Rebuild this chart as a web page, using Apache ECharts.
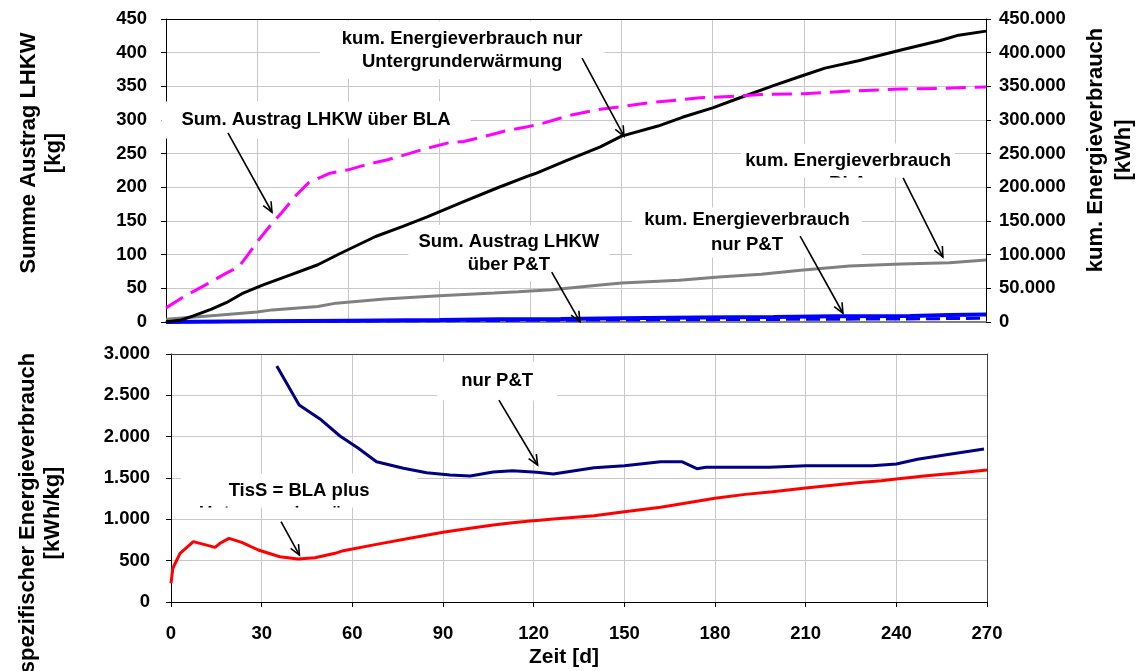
<!DOCTYPE html>
<html>
<head>
<meta charset="utf-8">
<script src="https://cdn.jsdelivr.net/npm/echarts@6/dist/echarts.min.js"></script>
<style>
  html, body { margin: 0; padding: 0; background: #fff; }
  #chart { width: 1137px; height: 671px; }
</style>
</head>
<body>
<div id="chart"></div>
<script>
// ---- data ---------------------------------------------------------------
// Upper panel: cumulative discharge [kg] (left) and cumulative energy [kWh] (right)
const blaKgDays   = [0, 6, 15, 20, 24, 27, 30, 35, 38, 43, 47, 54, 60, 67, 73, 80, 85, 93, 98, 107, 111, 119, 124, 133, 143, 150, 160, 176, 190, 196, 210, 225, 242, 255, 270];
const blaKg       = [21, 38, 60, 73, 82, 100, 119, 147, 162, 189, 207, 221, 226, 235, 241, 250, 257, 266, 268, 278, 283, 290, 295, 307, 316, 320, 326, 333, 336, 338, 339, 343, 346, 347, 349];

const ugKwhDays   = [0, 5, 9, 15, 20, 25, 32, 41, 50, 57, 69, 78, 86, 97, 109, 120, 122, 132, 143, 150, 162, 170, 180, 189, 200, 209, 217, 228, 242, 255, 261, 270];
const ugKwh       = [0, 3000, 9000, 19000, 29000, 42000, 55000, 70000, 85000, 101000, 127000, 142000, 156000, 177000, 199000, 218000, 221000, 240000, 260000, 276000, 291000, 304000, 318000, 333000, 351000, 365000, 377000, 388000, 404000, 418000, 426000, 432000];

const blaKwhDays  = [0, 17, 30, 35, 50, 56, 72, 90, 108, 116, 127, 143, 150, 169, 182, 196, 209, 225, 242, 258, 270];
const blaKwh      = [4000, 10000, 15000, 18000, 23000, 28000, 34000, 39000, 43000, 45000, 48000, 55000, 58000, 62000, 67000, 71000, 77000, 83000, 86000, 88000, 92000];

const ptKwhDays   = [0, 30, 60, 90, 110, 130, 150, 175, 200, 220, 245, 258, 270];
const ptKwh       = [0, 1000, 2000, 3000, 4000, 4500, 5500, 6500, 7500, 8500, 9000, 10500, 11000];

const ptKgDays    = [0, 35, 60, 90, 120, 150, 180, 210, 240, 270];
const ptKg        = [0, 1, 1.5, 2, 2.5, 3, 3.5, 4, 4.5, 5.5];

// Lower panel: specific energy consumption [kWh/kg]
const tissDays    = [0, 0.6, 3, 3.5, 7.4, 14.6, 16.2, 19.2, 23.4, 28.9, 36, 42, 47.6, 54.3, 57, 68, 79, 90, 99, 106.6, 113, 118.8, 122, 126.5, 140, 150, 162, 170, 180, 190, 199, 210, 227, 235, 240, 250, 261, 270];
const tissSpec    = [226, 408, 589, 609, 730, 661, 710, 770, 722, 629, 548, 520, 536, 589, 621, 697, 770, 843, 891, 931, 960, 980, 988, 1004, 1044, 1092, 1145, 1194, 1254, 1302, 1335, 1379, 1443, 1467, 1488, 1528, 1564, 1597];

const ptSpecDays  = [35, 42.4, 49.3, 55.9, 62, 68, 76.9, 84.6, 92.3, 99, 106.6, 113, 121, 126.5, 140, 150, 162, 169, 174, 177, 198, 210, 232, 240, 247, 256, 269];
const ptSpec      = [2855, 2383, 2214, 2008, 1859, 1697, 1617, 1564, 1536, 1524, 1573, 1588, 1569, 1548, 1625, 1649, 1697, 1697, 1613, 1629, 1629, 1649, 1649, 1669, 1726, 1778, 1851];

// ---- helpers ------------------------------------------------------------
const FONT = '"Liberation Sans", Arial, sans-serif';
const zip = (xs, ys) => xs.map((x, i) => [x, ys[i]]);
const de = v => String(v).replace(/\B(?=(\d{3})+(?!\d))/g, '.');
const tickFont = { color: '#000', fontFamily: FONT, fontWeight: 'bold', fontSize: 18.5 };

const lineSeries = (name, xi, yi, data, color, extra) => Object.assign({
  name, type: 'line', xAxisIndex: xi, yAxisIndex: yi, data,
  showSymbol: false, symbol: 'none', smooth: false, animation: false,
  lineStyle: { color, width: 3 }, z: 3
}, extra || {});

const chart = echarts.init(document.getElementById('chart'), null, { renderer: 'canvas' });

chart.setOption({
  animation: false,
  backgroundColor: '#fff',
  grid: [
    { left: 166, top: 19, width: 820, height: 303, outerBoundsMode: 'none', containLabel: false },
    { left: 171, top: 354, width: 816, height: 248, outerBoundsMode: 'none', containLabel: false }
  ],
  xAxis: [
    { gridIndex: 0, type: 'value', min: 0, max: 270, interval: 30,
      axisLine: { show: true, onZero: false, lineStyle: { color: '#808080', width: 2 } },
      axisTick: { show: false }, axisLabel: { show: false },
      splitLine: { show: true, lineStyle: { color: '#c8c8c8', width: 1 } } },
    { gridIndex: 1, type: 'value', min: 0, max: 270, interval: 30,
      axisLine: { show: true, onZero: false, lineStyle: { color: '#000', width: 1 } },
      axisTick: { show: true, length: 5, lineStyle: { color: '#000' } },
      axisLabel: Object.assign({ margin: 22 }, tickFont),
      splitLine: { show: true, lineStyle: { color: '#c8c8c8', width: 1 } } },
    { gridIndex: 0, type: 'value', min: 0, max: 270, position: 'top',
      axisLine: { show: true, onZero: false, lineStyle: { color: '#000', width: 1 } },
      axisTick: { show: false }, axisLabel: { show: false }, splitLine: { show: false } },
    { gridIndex: 1, type: 'value', min: 0, max: 270, position: 'top',
      axisLine: { show: true, onZero: false, lineStyle: { color: '#404040', width: 1 } },
      axisTick: { show: false }, axisLabel: { show: false }, splitLine: { show: false } }
  ],
  yAxis: [
    { gridIndex: 0, type: 'value', min: 0, max: 450, interval: 50, position: 'left',
      axisLine: { show: true, onZero: false, lineStyle: { color: '#000', width: 1 } },
      axisTick: { show: true, length: 5, lineStyle: { color: '#000' } },
      axisLabel: Object.assign({ margin: 19 }, tickFont),
      splitLine: { show: true, lineStyle: { color: '#c8c8c8', width: 1 } } },
    { gridIndex: 0, type: 'value', min: 0, max: 450000, interval: 50000, position: 'right',
      axisLine: { show: true, onZero: false, lineStyle: { color: '#000', width: 1 } },
      axisTick: { show: true, length: 5, lineStyle: { color: '#000' } },
      axisLabel: Object.assign({ margin: 13, formatter: v => de(v) }, tickFont),
      splitLine: { show: false } },
    { gridIndex: 1, type: 'value', min: 0, max: 3000, interval: 500, position: 'left',
      axisLine: { show: true, onZero: false, lineStyle: { color: '#000', width: 1 } },
      axisTick: { show: true, length: 5, lineStyle: { color: '#000' } },
      axisLabel: Object.assign({ margin: 21, formatter: v => de(v) }, tickFont),
      splitLine: { show: true, lineStyle: { color: '#c8c8c8', width: 1 } } },
    { gridIndex: 1, type: 'value', min: 0, max: 3000, position: 'right',
      axisLine: { show: true, onZero: false, lineStyle: { color: '#404040', width: 1 } },
      axisTick: { show: false }, axisLabel: { show: false }, splitLine: { show: false } }
  ],
  series: [
    lineSeries('kum. Energieverbrauch BLA', 0, 1, zip(blaKwhDays, blaKwh), '#808080'),
    lineSeries('Sum. Austrag LHKW über P&T', 0, 0, zip(ptKgDays, ptKg), '#0000ff',
      { lineStyle: { color: '#0000ff', width: 3, type: [14, 6] } }),
    lineSeries('kum. Energieverbrauch nur P&T', 0, 1, zip(ptKwhDays, ptKwh), '#0000ff',
      { lineStyle: { color: '#0000ff', width: 4 } }),
    lineSeries('kum. Energieverbrauch nur Untergrunderwärmung', 0, 1, zip(ugKwhDays, ugKwh), '#000000'),
    lineSeries('Sum. Austrag LHKW über BLA', 0, 0, zip(blaKgDays, blaKg), '#ff00ff',
      { lineStyle: { color: '#ff00ff', width: 3, type: [20, 9] } }),
    lineSeries('nur P&T', 1, 2, zip(ptSpecDays, ptSpec), '#000080'),
    lineSeries('TisS = BLA plus Untergrunderwärmung', 1, 2, zip(tissDays, tissSpec), '#ff0000')
  ]
});

// ---- annotations (anchored in data units of each panel) -----------------
const notes = [
  { grid: 0, text: 'kum. Energieverbrauch nur\nUntergrunderwärmung', at: [97.5, 404], pad: [6, 22], tail: [137, 392], tip: [150.8, 276] },
  { grid: 0, text: 'Sum. Austrag LHKW über BLA', at: [49.4, 300], pad: [7, 20], tail: [20.4, 281], tip: [34.9, 163] },
  { grid: 0, text: 'Sum. Austrag LHKW\nüber P&T', at: [112.9, 102.5], pad: [5, 10], tail: [127, 74], tip: [136.3, 0.5] },
  { grid: 0, text: 'kum. Energieverbrauch\nnur P&T', at: [191.3, 133], pad: [0, 12], lh: 25, tail: [208.8, 127.7], tip: [222.9, 13] },
  { grid: 0, text: 'kum. Energieverbrauch\nBLA', at: [224.6, 239], pad: [6, 4], clip: true, tail: [242.7, 214], tip: [255.8, 96.5] },
  { grid: 1, text: 'nur P&T', at: [107.9, 2673], pad: [8, 24], tail: [108.5, 2443], tip: [121.3, 1657] },
  { grid: 1, text: 'TisS = BLA plus\nUntergrunderwärmung', at: [42.4, 1343], pad: [6, 18], clip: true, tail: [36.4, 971], tip: [42.5, 568] }
];

const NOTE_SIZE = 18.5, NOTE_LH = 23;
const px = (g, p) => chart.convertToPixel({ gridIndex: g }, p);

function arrow(p0, p1) {
  const ang = Math.atan2(p1[1] - p0[1], p1[0] - p0[0]);
  const L = 11, a = 0.42;
  const h1 = [p1[0] - L * Math.cos(ang - a), p1[1] - L * Math.sin(ang - a)];
  const h2 = [p1[0] - L * Math.cos(ang + a), p1[1] - L * Math.sin(ang + a)];
  return [
    { type: 'polyline', z: 60, shape: { points: [p0, p1] }, style: { stroke: '#000', lineWidth: 1.6, fill: null } },
    { type: 'polyline', z: 60, shape: { points: [h1, p1, h2] }, style: { stroke: '#000', lineWidth: 1.6, fill: null } }
  ];
}

const graphics = [];
const zr = chart.getZr();

notes.forEach(n => {
  const c = px(n.grid, n.at);
  const lh = n.lh || NOTE_LH;
  const style = {
    text: n.text, fill: '#000',
    font: 'bold ' + NOTE_SIZE + 'px ' + FONT,
    align: 'center', lineHeight: lh,
    backgroundColor: '#fff', padding: n.pad
  };
  if (n.clip) {
    // two-line box whose frame cuts the second line just below its top
    const top = c[1] - n.pad[0] - lh / 2;
    const t = new echarts.graphic.Text({
      x: c[0], y: top, z: 1,
      style: Object.assign({}, style, { verticalAlign: 'top' })
    });
    // clip rectangle is given in the text's local coordinates
    t.setClipPath(new echarts.graphic.Rect({
      shape: { x: -600, y: -2, width: 1200, height: n.pad[0] + lh + 7 }
    }));
    zr.add(t);
  } else {
    graphics.push({ type: 'text', x: c[0], y: c[1], z: 1,
      style: Object.assign({}, style, { verticalAlign: 'middle' }) });
  }
  arrow(px(n.grid, n.tail), px(n.grid, n.tip)).forEach(e => graphics.push(e));
});

// axis titles
const title = (text, x, y, size, lh, rot) => ({
  type: 'text', x, y, rotation: rot || 0, z: 40,
  style: { text, fill: '#000', font: 'bold ' + size + 'px ' + FONT,
           align: 'center', verticalAlign: 'middle', lineHeight: lh }
});
graphics.push(title('Summe Austrag LHKW\n[kg]', 41, 153, 22, 25, Math.PI / 2));
graphics.push(title('spezifischer Energieverbrauch\n[kWh/kg]', 40, 513, 22, 25, Math.PI / 2));
graphics.push(title('kum. Energieverbrauch\n[kWh]', 1110, 150, 22, 28, Math.PI / 2));
graphics.push(title('Zeit [d]', 564, 657, 21, 24, 0));

chart.setOption({ graphic: graphics });
</script>
</body>
</html>
